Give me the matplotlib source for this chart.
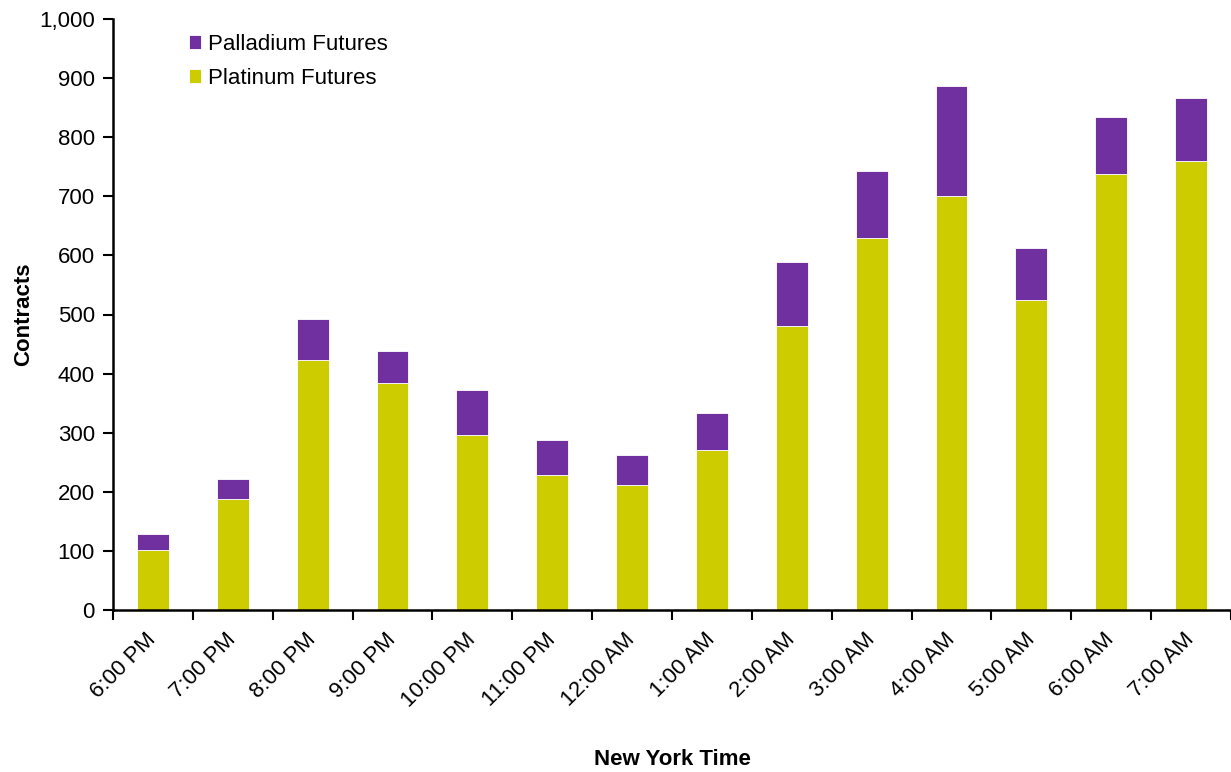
import matplotlib.pyplot as plt
from matplotlib.ticker import FuncFormatter, FixedLocator

plt.rcParams['font.family'] = ['Liberation Sans', 'DejaVu Sans']

hours = ['6:00 PM', '7:00 PM', '8:00 PM', '9:00 PM', '10:00 PM', '11:00 PM',
         '12:00 AM', '1:00 AM', '2:00 AM', '3:00 AM', '4:00 AM', '5:00 AM',
         '6:00 AM', '7:00 AM']
platinum = [102, 187, 423, 384, 296, 228, 212, 271, 480, 630, 700, 524, 738, 760]
palladium = [26, 35, 69, 54, 76, 59, 51, 62, 108, 112, 186, 89, 97, 107]

fig = plt.figure(figsize=(12.31, 7.72), dpi=100)
ax = fig.add_axes([113/1231, 1-610/772, 1-113/1231, (610-19)/772])

x = list(range(len(hours)))
b1 = ax.bar(x, platinum, width=0.4, color='#CCCC00', edgecolor='white', linewidth=0.6,
            label='Platinum Futures')
b2 = ax.bar(x, palladium, width=0.4, bottom=platinum, color='#7030A0', edgecolor='white',
            linewidth=0.6, label='Palladium Futures')

ax.set_xlim(-0.5, len(hours) - 0.5)
ax.set_ylim(0, 1000)
ax.set_yticks(range(0, 1001, 100))
ax.yaxis.set_major_formatter(FuncFormatter(lambda v, p: f'{int(v):,}'))

ax.set_xticks(x)
ax.set_xticklabels(hours, rotation=45, ha='right', va='center', rotation_mode='anchor')
ax.xaxis.set_minor_locator(FixedLocator([i - 0.5 for i in range(len(hours) + 1)]))
ax.tick_params(axis='x', which='major', length=0, pad=19, labelsize=16)
ax.tick_params(axis='x', which='minor', length=7, width=1.5, direction='out')
ax.tick_params(axis='y', length=7, width=1.5, direction='out', labelsize=16, pad=6)

for s in ['top', 'right']:
    ax.spines[s].set_visible(False)
for s in ['left', 'bottom']:
    ax.spines[s].set_linewidth(1.8)

ax.set_ylabel('Contracts', fontsize=16, fontweight='bold')
ax.yaxis.set_label_coords(-0.0706, 0.5)
ax.set_xlabel('New York Time', fontsize=16, fontweight='bold')
ax.xaxis.set_label_coords(0.5, -0.236)

ax.legend([b2, b1], ['Palladium Futures', 'Platinum Futures'], frameon=False,
          loc='upper left', bbox_to_anchor=(189/1231, 1-34/772),
          bbox_transform=fig.transFigure, fontsize=16, handlelength=0.55,
          handleheight=0.55, handletextpad=0.3, labelspacing=0.58,
          borderpad=0, borderaxespad=0)

fig.savefig('out.png', dpi=100)
